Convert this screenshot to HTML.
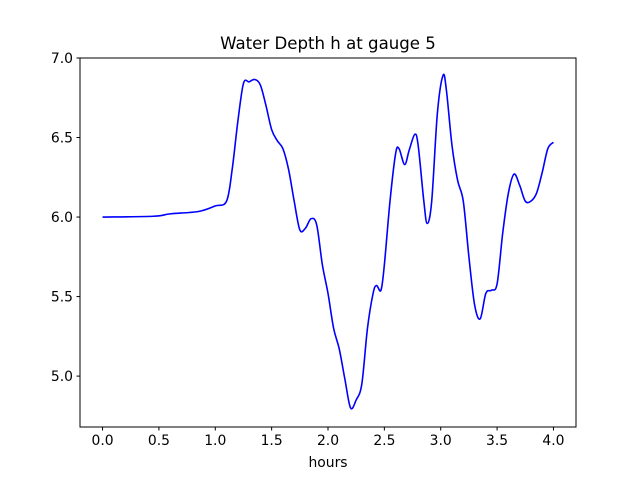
<!DOCTYPE html>
<html><head><meta charset="utf-8"><style>
body{margin:0;background:#fff;font-family:"Liberation Sans","DejaVu Sans",sans-serif;}
svg text{font-family:"DejaVu Sans","Liberation Sans",sans-serif;}
</style></head><body>
<svg id="chart" width="640" height="480" xmlns="http://www.w3.org/2000/svg">
<rect width="640" height="480" fill="#fff"/>
<text x="328" y="49" font-size="16.6" text-anchor="middle">Water Depth h at gauge 5</text>
<g id="plot"></g>
<rect x="80" y="58" width="496" height="369" fill="none" stroke="#000" stroke-width="1"/>
<text x="328" y="467" font-size="13.9" text-anchor="middle">hours</text>
</svg>
<script>
const hours=[0,0.45,0.6,0.85,1.0,1.1,1.15,1.2,1.25,1.3,1.35,1.4,1.45,1.5,1.55,1.6,1.65,1.7,1.75,1.8,1.85,1.9,1.95,2.0,2.05,2.1,2.15,2.2,2.25,2.3,2.35,2.4,2.43,2.47,2.5,2.55,2.6,2.63,2.68,2.72,2.77,2.8,2.85,2.88,2.92,2.97,3.02,3.05,3.1,3.15,3.2,3.25,3.3,3.35,3.4,3.45,3.5,3.55,3.6,3.65,3.7,3.75,3.8,3.85,3.9,3.95,4.0];
const depth=[6.0,6.005,6.02,6.035,6.07,6.1,6.3,6.6,6.84,6.85,6.865,6.83,6.7,6.55,6.48,6.43,6.3,6.1,5.92,5.93,5.99,5.95,5.7,5.52,5.3,5.17,4.98,4.8,4.85,4.95,5.3,5.52,5.57,5.54,5.7,6.1,6.4,6.43,6.33,6.42,6.52,6.45,6.1,5.96,6.1,6.65,6.89,6.8,6.45,6.23,6.1,5.75,5.45,5.36,5.52,5.54,5.58,5.9,6.15,6.27,6.2,6.1,6.1,6.15,6.28,6.43,6.47];
const xTicks=[0,0.5,1.0,1.5,2.0,2.5,3.0,3.5,4.0];
const yTicks=[5.0,5.5,6.0,6.5,7.0];
const X=v=>80+(v+0.2)/4.4*496;
const Y=v=>58+(7.0-v)/(7.0-4.68)*369;
const ns="http://www.w3.org/2000/svg";
const g=document.getElementById('plot');
function el(t,a){const e=document.createElementNS(ns,t);for(const k in a)e.setAttribute(k,a[k]);g.appendChild(e);return e;}
xTicks.forEach(v=>{
 const l=el('line',{x1:X(v),x2:X(v),y1:427,y2:430.5,stroke:'#000'});
 
 
 const t=el('text',{x:X(v),y:445,'font-size':13.9,'text-anchor':'middle'});
 t.textContent=v.toFixed(1);
 
 
});
yTicks.forEach(v=>{
 const l=el('line',{x1:76.5,x2:80,y1:Y(v),y2:Y(v),stroke:'#000'});
 
 
 const t=el('text',{x:73,y:Y(v)+5,'font-size':13.9,'text-anchor':'end'});
 t.textContent=v.toFixed(1);
 
 
});
const pts=hours.map((h,i)=>[X(h),Y(depth[i])]);
let d='M'+pts[0][0]+','+pts[0][1];
for(let i=0;i<pts.length-1;i++){
 const p0=pts[Math.max(i-1,0)],p1=pts[i],p2=pts[i+1],p3=pts[Math.min(i+2,pts.length-1)];
 const c1=[p1[0]+(p2[0]-p0[0])/6,p1[1]+(p2[1]-p0[1])/6];
 const c2=[p2[0]-(p3[0]-p1[0])/6,p2[1]-(p3[1]-p1[1])/6];
 d+=' C'+c1.join(',')+' '+c2.join(',')+' '+p2.join(',');
}
const p=el('path',{d:d,fill:'none',stroke:'#0000ff','stroke-width':1.6,'stroke-linejoin':'round'});


</script>
</body></html>
